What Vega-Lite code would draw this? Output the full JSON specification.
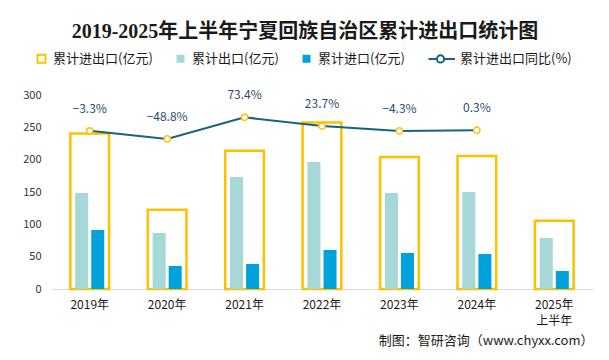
{
  "$schema": "https://vega.github.io/schema/vega-lite/v6.json",
  "width": 542,
  "height": 194,
  "autosize": {"type": "none"},
  "padding": {"left": 51, "top": 95, "right": 16, "bottom": 71},
  "background": "white",
  "config": {
    "view": {"stroke": null},
    "font": "Noto Sans CJK SC",
    "legend": {
      "orient": "none",
      "legendX": -16,
      "legendY": -43,
      "direction": "horizontal",
      "title": null,
      "padding": 0,
      "symbolType": "square",
      "symbolSize": 64,
      "symbolStrokeWidth": 2,
      "labelFontSize": 13,
      "labelColor": "#1a1a1a",
      "labelOffset": 5,
      "columnPadding": 19
    }
  },
  "title": {
    "text": "2019-2025年上半年宁夏回族自治区累计进出口统计图",
    "font": "Liberation Serif, Noto Sans CJK SC",
    "fontSize": 20,
    "fontWeight": "bold",
    "color": "#1a1a1a",
    "anchor": "middle",
    "dx": -17,
    "offset": 10
  },
  "data": {
    "values": [
      {"year": "2019年", "total": 240.5, "export": 148.5, "import": 91.2, "yoy": -3.3},
      {"year": "2020年", "total": 122.6, "export": 86.6, "import": 35.6, "yoy": -48.8},
      {"year": "2021年", "total": 213.9, "export": 173.2, "import": 38.7, "yoy": 73.4},
      {"year": "2022年", "total": 257.3, "export": 196.4, "import": 60.3, "yoy": 23.7},
      {"year": "2023年", "total": 204.3, "export": 148.3, "import": 55.7, "yoy": -4.3},
      {"year": "2024年", "total": 205.6, "export": 150.0, "import": 54.0, "yoy": 0.3},
      {"year": "2025年上半年", "total": 105.4, "export": 78.9, "import": 27.8, "yoy": null}
    ]
  },
  "encoding": {
    "x": {
      "field": "year",
      "type": "nominal",
      "sort": null,
      "scale": {"paddingInner": 0.5, "paddingOuter": 0.25},
      "axis": {
        "labelAngle": 0,
        "labelFontSize": 12,
        "labelColor": "#1a1a1a",
        "labelPadding": 10,
        "labelLineHeight": 16,
        "labelExpr": "datum.value == '2025年上半年' ? ['2025年', '上半年'] : datum.value",
        "ticks": false,
        "domainColor": "#D9D9D9",
        "domainWidth": 1,
        "title": "制图：智研咨询（www.chyxx.com）",
        "titleAnchor": "end",
        "titleFontSize": 13,
        "titleFontWeight": "normal",
        "titleColor": "#1a1a1a",
        "titlePadding": 8
      }
    }
  },
  "layer": [
    {
      "resolve": {"scale": {"y": "shared"}},
      "layer": [
        {
          "mark": {"type": "bar", "strokeWidth": 2.5},
          "encoding": {
            "y": {
              "field": "total",
              "type": "quantitative",
              "scale": {"domain": [0, 300]},
              "axis": {
                "values": [0, 50, 100, 150, 200, 250, 300],
                "grid": false,
                "ticks": false,
                "domain": false,
                "labelFontSize": 11,
                "labelColor": "#333333",
                "labelPadding": 10,
                "title": null
              }
            },
            "fill": {
              "datum": "total",
              "scale": {
                "domain": ["total", "export", "import", "yoy"],
                "range": ["#FFFFFF", "#A5D8D6", "#00A2DB", "#FFFFFF"]
              },
              "legend": {
                "labelExpr": "{'total': '累计进出口(亿元)', 'export': '累计出口(亿元)', 'import': '累计进口(亿元)', 'yoy': '累计进出口同比(%)'}[datum.value]"
              }
            },
            "stroke": {
              "datum": "total",
              "scale": {
                "domain": ["total", "export", "import", "yoy"],
                "range": ["#FFC000", "transparent", "transparent", "#16627F"]
              },
              "legend": {
                "labelExpr": "{'total': '累计进出口(亿元)', 'export': '累计出口(亿元)', 'import': '累计进口(亿元)', 'yoy': '累计进出口同比(%)'}[datum.value]"
              }
            }
          }
        },
        {
          "transform": [
            {"fold": ["export", "import"], "as": ["kind", "value"]}
          ],
          "mark": {"type": "bar"},
          "encoding": {
            "xOffset": {
              "field": "kind",
              "type": "nominal",
              "sort": ["export", "import"],
              "scale": {"paddingInner": 0.19, "paddingOuter": 0.3}
            },
            "y": {
              "field": "value",
              "type": "quantitative",
              "axis": {
                "values": [0, 50, 100, 150, 200, 250, 300],
                "grid": false,
                "ticks": false,
                "domain": false,
                "labelFontSize": 11,
                "labelColor": "#333333",
                "labelPadding": 10,
                "title": null
              }
            },
            "fill": {"field": "kind", "type": "nominal"}
          }
        }
      ]
    },
    {
      "layer": [
        {
          "transform": [{"filter": "datum.yoy != null"}],
          "mark": {"type": "line", "strokeWidth": 2},
          "encoding": {
            "y": {
              "field": "yoy",
              "type": "quantitative",
              "scale": {"domain": [-891, 139]},
              "axis": null
            },
            "stroke": {"datum": "yoy"}
          }
        },
        {
          "transform": [{"filter": "datum.yoy != null"}],
          "mark": {"type": "point", "filled": true, "fill": "white", "stroke": "#FFC000", "strokeWidth": 1.5, "size": 40, "opacity": 1},
          "encoding": {
            "y": {"field": "yoy", "type": "quantitative"}
          }
        },
        {
          "transform": [{"filter": "false"}],
          "mark": {"type": "point"},
          "encoding": {
            "y": {"field": "yoy", "type": "quantitative"},
            "shape": {
              "datum": "yoy",
              "scale": {
                "domain": ["total", "export", "import", "yoy"],
                "range": ["square", "square", "square", "M-5,0H-2.9M-1.1,0H1.6M-2.9,0A0.9,0.9 0 1,1 -1.1,0A0.9,0.9 0 1,1 -2.9,0"]
              },
              "legend": {
                "labelExpr": "{'total': '累计进出口(亿元)', 'export': '累计出口(亿元)', 'import': '累计进口(亿元)', 'yoy': '累计进出口同比(%)'}[datum.value]"
              }
            }
          }
        },
        {
          "transform": [
            {"filter": "datum.yoy != null"},
            {"calculate": "format(datum.yoy, '.1f') + '%'", "as": "label"}
          ],
          "mark": {"type": "text", "dy": -22, "fontSize": 12, "color": "#2B4C6F"},
          "encoding": {
            "y": {"field": "yoy", "type": "quantitative"},
            "text": {"field": "label", "type": "nominal"}
          }
        }
      ]
    }
  ],
  "resolve": {"scale": {"y": "independent"}}
}
